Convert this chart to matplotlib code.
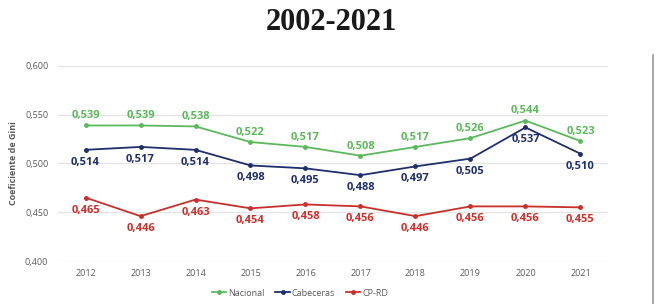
import matplotlib.pyplot as plt
from matplotlib.lines import Line2D

# Datos del gráfico
anios = ["2012", "2013", "2014", "2015", "2016", "2017", "2018", "2019", "2020", "2021"]
nacional = [0.539, 0.539, 0.538, 0.522, 0.517, 0.508, 0.517, 0.526, 0.544, 0.523]
cabeceras = [0.514, 0.517, 0.514, 0.498, 0.495, 0.488, 0.497, 0.505, 0.537, 0.510]
cp_rd = [0.465, 0.446, 0.463, 0.454, 0.458, 0.456, 0.446, 0.456, 0.456, 0.455]
yticks = [0.400, 0.450, 0.500, 0.550, 0.600]

verde = "#5cb85c"
azul = "#1f2f6b"
rojo = "#c8302c"
gris = "#595959"

fig = plt.figure(figsize=(6.63, 3.04), dpi=100)
ax = fig.add_axes([0.0875, 0.1414, 0.8295, 0.6416])

x = list(range(len(anios)))
series = [(nacional, verde, "Nacional", 3), (cabeceras, azul, "Cabeceras", -5),
          (cp_rd, rojo, "CP-RD", -5)]
for vals, color, nombre, dy in series:
    ax.plot(x, vals, color=color, lw=1.3, marker="o", ms=2.5, label=nombre)
    for xi, v in zip(x, vals):
        txt = f"{v:.3f}".replace(".", ",")
        ax.annotate(txt, (xi, v), xytext=(0, dy), textcoords="offset points",
                    ha="center", va="bottom" if dy > 0 else "top",
                    color=color, fontsize=8, fontweight="bold", family="Open Sans")

ax.set_xlim(-0.5, 9.5)
ax.set_ylim(0.4, 0.6)
ax.set_xticks(x)
ax.set_xticklabels(anios)
ax.set_yticks(yticks)
ax.set_yticklabels([f"{t:.3f}".replace(".", ",") for t in yticks])
ax.tick_params(length=0, labelsize=6.5, labelcolor=gris)
ax.tick_params(axis="x", pad=6)
ax.tick_params(axis="y", pad=7)
for lab in ax.get_xticklabels() + ax.get_yticklabels():
    lab.set_family("Open Sans")
ax.grid(axis="y", color="#e3e3e3", lw=0.9)
ax.set_axisbelow(True)
for s in ax.spines.values():
    s.set_visible(False)

ax.set_ylabel("Coeficiente de Gini", fontsize=6.5, fontweight="bold", color=gris,
              family="Open Sans", labelpad=5)

handles = [Line2D([0], [0], color=c, lw=1.3, marker="o", ms=2.5) for _, c, _, _ in series]
leg = ax.legend(handles, [n for _, _, n, _ in series], loc="upper center",
                bbox_to_anchor=(0.44, -0.1), ncol=3, frameon=False,
                prop={"family": "Open Sans", "size": 6.5}, handlelength=1.6,
                handletextpad=0.2, columnspacing=1.2)
for t in leg.get_texts():
    t.set_color(gris)

fig.text(0.5, 0.925, "2002-2021", ha="center", va="center", fontsize=22,
         fontweight="bold", family="Liberation Serif", color="#1a1a1a")

fig.add_artist(Line2D([653 / 663, 653 / 663], [0, 1 - 55 / 304], color="#999999",
                      lw=1.2, transform=fig.transFigure))

fig.savefig("out.png", dpi=100)
